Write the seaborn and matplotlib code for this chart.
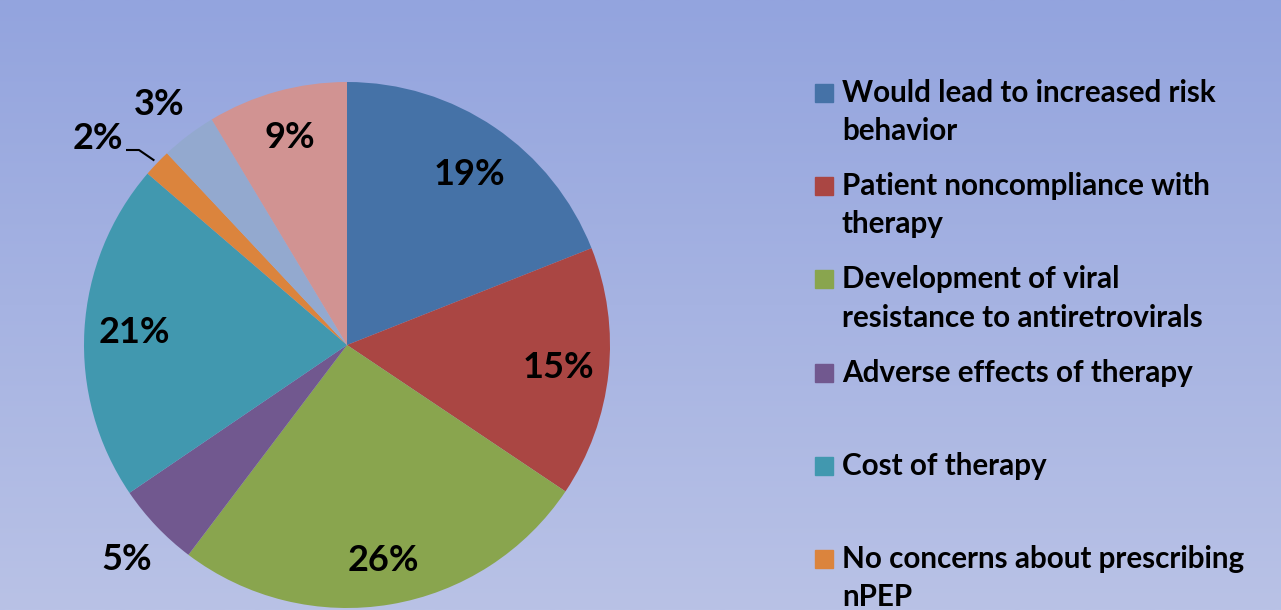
import numpy as np
import matplotlib
matplotlib.use("Agg")
import matplotlib.pyplot as plt
import seaborn as sns

# ---- data ----
categories = [
    "Would lead to increased risk behavior",
    "Patient noncompliance with therapy",
    "Development of viral resistance to antiretrovirals",
    "Adverse effects of therapy",
    "Cost of therapy",
    "No concerns about prescribing nPEP",
    "Other (light blue)",
    "Other (pink)",
]
values = [19.0, 15.4, 25.9, 5.2, 20.8, 1.7, 3.4, 8.6]
pct_labels = ["19%", "15%", "26%", "5%", "21%", "2%", "3%", "9%"]
legend_lines = [
    ["Would lead to increased risk", "behavior"],
    ["Patient noncompliance with", "therapy"],
    ["Development of viral", "resistance to antiretrovirals"],
    ["Adverse effects of therapy"],
    ["Cost of therapy"],
    ["No concerns about prescribing", "nPEP"],
]
colors = ["#4572a7", "#aa4643", "#89a54e", "#71588f", "#4198af",
          "#db843d", "#93a9cf", "#d19392"]

sns.set_theme(style="white")
plt.rcParams["font.family"] = ["Lato", "DejaVu Sans"]
palette = sns.color_palette(colors)

W, H = 1281, 610
fig = plt.figure(figsize=(W / 100, H / 100), dpi=100)

def fx(px):
    return px / W

def fy(py):
    return 1 - py / H

# gradient background
bg = fig.add_axes([0, 0, 1, 1], zorder=-10)
top = np.array([0x93, 0xa4, 0xde]) / 255
bot = np.array([0xb9, 0xc2, 0xe6]) / 255
t = np.linspace(0, 1, 256)[:, None, None]
grad = top[None, None, :] * (1 - t) + bot[None, None, :] * t
bg.imshow(grad, aspect="auto", extent=[0, 1, 0, 1], origin="upper")
bg.set_axis_off()

# pie axes
cx, cy, r = 347, 345, 263
ax = fig.add_axes([fx(cx - r), fy(cy + r), 2 * r / W, 2 * r / H])
ax.patch.set_alpha(0)

wedges, _ = ax.pie(values, colors=palette, startangle=90, counterclock=False,
                   radius=1, wedgeprops=dict(linewidth=0))
ax.set_xlim(-1, 1)
ax.set_ylim(-1, 1)
ax.set_aspect("equal")
ax.set_axis_off()

label_r = [0.80, 0.81, 0.83, 1.17, 0.81, 1.23, 1.16, 0.82]
angle_adj = [-1.5, 0, 0, 0.6, 0, 4.0, 1.0, 0]
for w, lab, lr, da in zip(wedges, pct_labels, label_r, angle_adj):
    mid = np.deg2rad((w.theta1 + w.theta2) / 2 + da)
    ax.text(lr * np.cos(mid), lr * np.sin(mid), lab, ha="center", va="center",
            fontsize=26, fontweight="bold", color="black", clip_on=False)

# leader line for small 2% slice
w = wedges[5]
mid = np.deg2rad((w.theta1 + w.theta2) / 2)
ex, ey = 1.0 * np.cos(mid), 1.0 * np.sin(mid)
lx0 = (126 - cx) / r
ly0 = (cy - 150) / r
lx1 = (139 - cx) / r
ax.plot([lx0, lx1, ex - 0.01], [ly0, ly0, ey + 0.01], color="black", lw=1.5,
        clip_on=False, solid_capstyle="butt")

# legend (manual)
sq = 18
step = 93.2
for i, (lines, col) in enumerate(zip(legend_lines, palette)):
    top_px = 84 + step * i
    fig.patches.append(plt.Rectangle((fx(815), fy(top_px + sq)), sq / W, sq / H,
                                     transform=fig.transFigure, color=col,
                                     figure=fig))
    for k, line in enumerate(lines):
        fig.text(fx(842), fy(102 + step * i + 38.3 * k), line, ha="left",
                 va="baseline", fontsize=21.3, fontweight="bold", color="black")

fig.savefig("out.png", dpi=100)
